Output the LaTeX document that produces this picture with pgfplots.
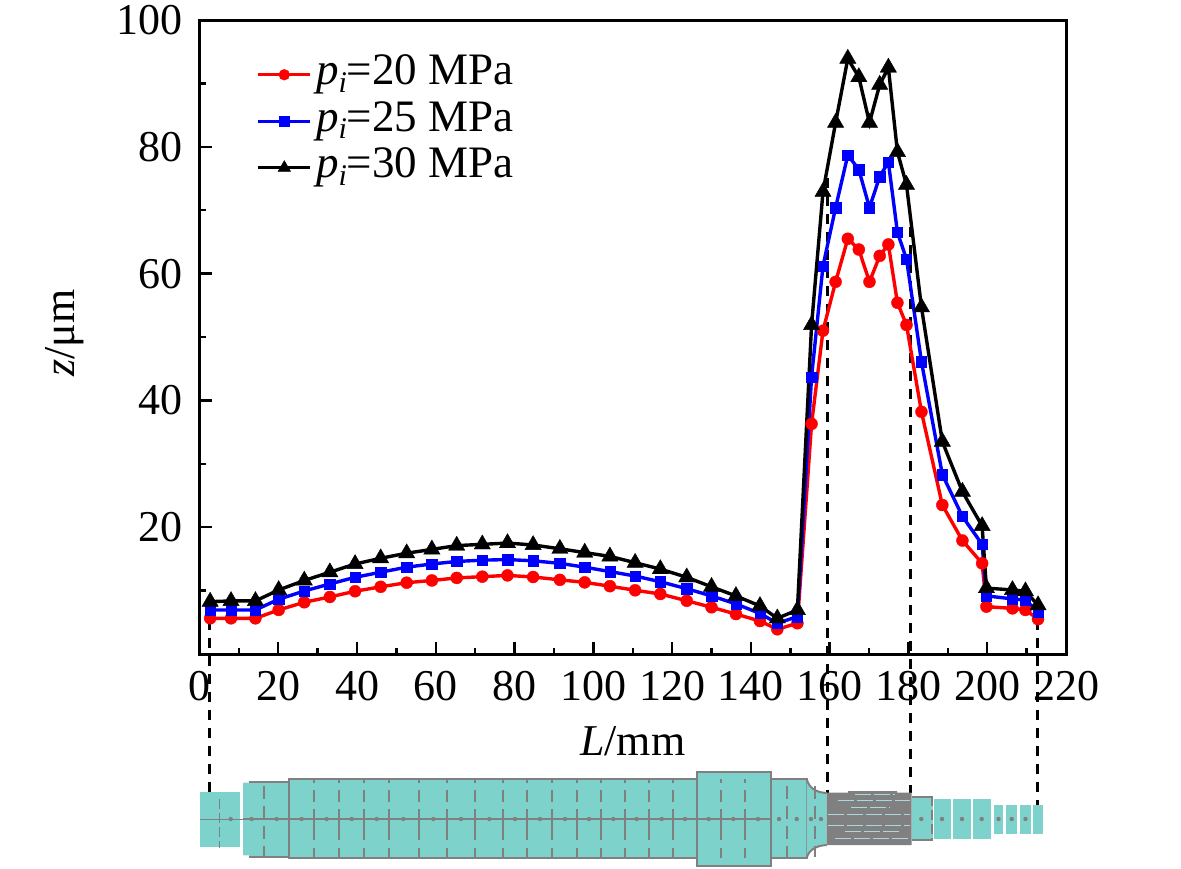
\documentclass[border=0pt]{standalone}
\usepackage{pgfplots}
\usepackage{fontspec}
\setmainfont{Liberation Serif}
\pgfplotsset{compat=1.18}
\definecolor{teal1}{RGB}{125,210,203}
\definecolor{gr}{RGB}{128,128,128}
\definecolor{lb}{RGB}{170,215,225}
\newcommand{\pii}{\textit{p}\raisebox{-.35ex}{\fontsize{15pt}{15pt}\selectfont\textit{i}}}
\begin{document}
\begin{tikzpicture}
\useasboundingbox (0pt,0pt) rectangle (590.5pt,-434pt);
\begin{scope}[x=.5pt,y=-.5pt]
% dashed guide lines
\foreach \x/\a/\b in {209.7/620/805,827.7/178/793,910.5/227/793,1037.3/620/805}
  \draw[black,line width=1.3pt,dash pattern=on 5pt off 4pt] (\x,\a) -- (\x,\b);
\end{scope}
\begin{axis}[
  at={(99.75pt,-327pt)},anchor=south west,
  scale only axis,width=433.25pt,height=317pt,
  xmin=0,xmax=220,ymin=0,ymax=100,
  axis line style={line width=1.5pt},
  axis x line=box,axis y line=box,
  xtick={0,20,...,220},ytick={20,40,60,80,100},
  minor xtick={10,30,...,210},minor ytick={10,30,50,70,90},
  tick align=inside,xtick pos=bottom,ytick pos=left,
  tick style={black,line width=1.2pt},
  major tick length=6pt,minor tick length=3pt,
  tick label style={font=\fontsize{22pt}{22pt}\selectfont,/pgf/number format/assume math mode=true},
  xticklabel style={yshift=-5pt},
  yticklabel style={xshift=-5pt},
  xlabel={\textit{L}/mm},ylabel={\textit{z}/μm},
  xlabel style={font=\fontsize{22pt}{22pt}\selectfont,at={(axis description cs:0.5,-0.137)},anchor=center},
  ylabel style={font=\fontsize{22pt}{22pt}\selectfont,at={(axis description cs:-0.155,0.506)},anchor=center},
  clip=false,
  legend cell align=left,
  legend style={draw=none,fill=none,at={(axis cs:14.5,94.2)},anchor=north west,
    inner sep=0pt,outer sep=0pt,row sep=5.25pt,
    nodes={inner ysep=0pt,inner xsep=2pt,text height=14pt,text depth=4pt,font=\fontsize{22.5pt}{22.5pt}\selectfont}},
  legend image code/.code={\draw[#1,mark repeat=2,mark phase=2] plot coordinates {(0pt,0pt)(13pt,0pt)(26pt,0pt)};},
]
\addplot[red,line width=1.7pt,mark=*,mark size=3pt,mark options={solid,fill=red,line width=.2pt},legend image post style={mark size=2.7pt}] coordinates {
(2.7,5.63)(8,5.63)(14.2,5.63)(20.1,6.95)(26.6,8.16)(33.1,9.0)(39.5,9.9)(46,10.6)(52.6,11.25)(59,11.6)(65.3,12)(71.8,12.2)(78.2,12.4)(84.7,12.15)(91.5,11.7)(97.8,11.3)(104.2,10.7)(110.6,10.05)
(117,9.47)(123.7,8.4)(130,7.37)(136.2,6.3)(142.3,5.2)(146.7,3.9)(151.8,4.85)
(155.4,36.3)(158.3,51.0)(161.5,58.7)(164.6,65.5)(167.4,63.8)(170.1,58.7)(172.7,62.8)(174.9,64.6)(177.2,55.4)(179.5,51.9)(183.3,38.2)(188.6,23.5)(193.7,17.9)(198.7,14.3)(199.8,7.47)(206.4,7.2)(209.7,6.95)(212.9,5.5)};
\addlegendentry{\pii=20 MPa}
\addplot[blue,line width=1.7pt,mark=square*,mark size=2.6pt,mark options={solid,fill=blue,line width=.2pt},legend image post style={mark size=2.5pt}] coordinates {
(2.7,6.95)(8,6.95)(14.2,6.95)(20.1,8.63)(26.6,9.94)(33.1,11.05)(39.5,12.1)(46,12.9)(52.6,13.7)(59,14.2)(65.3,14.6)(71.8,14.8)(78.2,14.9)(84.7,14.7)(91.5,14.3)(97.8,13.7)(104.2,13.0)(110.6,12.3)
(117,11.4)(123.7,10.3)(130,9.16)(136.2,7.9)(142.3,6.4)(146.7,4.84)(151.8,5.9)
(155.4,43.7)(158.3,61.2)(161.5,70.4)(164.6,78.7)(167.4,76.4)(170.1,70.4)(172.7,75.3)(174.9,77.6)(177.2,66.5)(179.5,62.3)(183.3,46.1)(188.6,28.3)(193.7,21.7)(198.7,17.3)(199.8,9.16)(206.4,8.7)(209.7,8.5)(212.9,6.7)};
\addlegendentry{\pii=25 MPa}
\addplot[black,line width=1.7pt,mark=triangle*,mark size=4.7pt,mark options={solid,fill=black,line width=.2pt},legend image post style={mark size=3.6pt}] coordinates {
(2.7,8.26)(8,8.37)(14.2,8.37)(20.1,10.1)(26.6,11.6)(33.1,12.9)(39.5,14.2)(46,15.1)(52.6,15.9)(59,16.5)(65.3,17.1)(71.8,17.3)(78.2,17.5)(84.7,17.2)(91.5,16.6)(97.8,16.0)(104.2,15.4)(110.6,14.4)
(117,13.4)(123.7,12.1)(130,10.6)(136.2,9.16)(142.3,7.58)(146.7,5.63)(151.8,6.95)
(155.4,51.9)(158.3,72.9)(161.5,83.8)(164.6,93.9)(167.4,91.0)(170.1,83.8)(172.7,89.8)(174.9,92.5)(177.2,79.2)(179.5,74.0)(183.3,54.7)(188.6,33.5)(193.7,25.6)(198.7,20.2)(199.8,10.4)(206.4,10.1)(209.7,9.9)(212.9,7.7)};
\addlegendentry{\pii=30 MPa}
\end{axis}
\begin{scope}[x=.5pt,y=-.5pt]
% schematic of the part
\fill[teal1] (200,792) rectangle (240,847.3);
\fill[teal1] (243.3,782.7) rectangle (289,855.3);
\fill[teal1] (243.3,782.7) -- (249,782.7) -- (249,782) -- (289,782) -- (289,856.5) -- (249,856.5) -- (249,855.3) -- (243.3,855.3) -- cycle;
\filldraw[fill=teal1,draw=gr,line width=1pt] (289,778.5) rectangle (696.7,858.3);
\filldraw[fill=teal1,draw=gr,line width=1pt] (770.7,779) rectangle (806.7,857.7);
\fill[teal1] (806.7,779) .. controls (809,788) and (816,792.5) .. (826.7,793) -- (826.7,845) .. controls (816,845.5) and (809,850) .. (806.7,857.7) -- cycle;
\draw[gr,line width=1pt] (806.7,779) .. controls (809,788) and (816,792.5) .. (826.7,793);
\draw[gr,line width=1pt] (806.7,857.7) .. controls (809,850) and (816,845.5) .. (826.7,845);
\filldraw[fill=teal1,draw=gr,line width=1pt] (696.7,772.3) rectangle (770.7,865.7);
\draw[gr,line width=1pt] (249,781.7) -- (289,781.7) (249,856.7) -- (289,856.7);
\fill[teal1] (911.7,796.7) rectangle (933.3,840);
\draw[gr,line width=1pt] (911.7,796.7) -- (933.3,796.7) (911.7,840) -- (933.3,840);
\foreach \a/\b in {934/951,953.3/970.7,973.3/991} \fill[teal1] (\a,799.3) rectangle (\b,838.7);
\foreach \a/\b in {994/1003.3,1006/1017.3,1020/1030.7,1033.3/1043.3} \fill[teal1] (\a,805) rectangle (\b,833.7);
% dense grey section
\fill[gr] (826.7,792.5) -- (848,792.5) -- (848,791) -- (897,791) -- (897,792.5) -- (911.7,792.5) -- (911.7,845) -- (826.7,845) -- cycle;
\foreach \y/\a/\b in {794.5/855/895,800.5/838/910,807/851/890,814.5/828/910,825/828/910,831/845/900,838/835/910}
  \draw[lb,line width=.3pt,dash pattern=on 8pt off 1.5pt] (\a,\y) -- (\b,\y);
% centre line and dots
\draw[gr,line width=.5pt] (200,819) -- (243,819);
\draw[gr,line width=1pt] (243,819) -- (770,819);
\foreach \x in {230.7,251.7,276.7,301.7,326.7,351.7,376.7,403.3,433.3,461,489.3,515,540,565,589,613.3,636.7,661.7,685,708.7,733.3,758} \fill[gr] (\x,819) circle (2.2);
\foreach \x in {779,796.7,811,821,921.3,942,962,981.7,998.5,1011.7,1025.5} \fill[gr] (\x,819) circle (2.2);
% vertical dashes
\foreach \x in {314,338.7,363.7,389.3,418.7,447.3,475,502.7,527.3,552,576.7,601.3,625,649.3,672.7,720.7,745.3}
  \draw[gr,line width=.9pt] (\x,779) -- (\x,783) (\x,790) -- (\x,802) (\x,809) -- (\x,829) (\x,828) -- (\x,840) (\x,848) -- (\x,858);
\foreach \x in {264,787.3,815}
  \draw[gr,line width=.9pt] (\x,786) -- (\x,799) (\x,806) -- (\x,819) (\x,826) -- (\x,839) (\x,846) -- (\x,857);
\draw[gr,line width=.4pt,dash pattern=on 5pt off 2pt] (219.3,799) -- (219.3,848);
\draw[gr,line width=.8pt,dash pattern=on 5pt off 2pt] (931.7,796) -- (931.7,841);
\end{scope}
\end{tikzpicture}
\end{document}
